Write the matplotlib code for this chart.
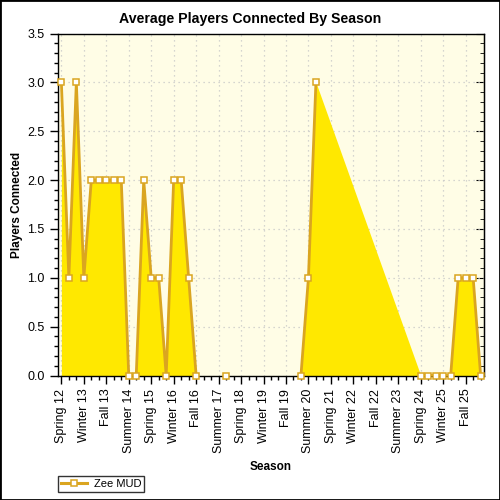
import numpy as np
import matplotlib
matplotlib.use("Agg")
from matplotlib import pyplot as plt
from matplotlib.ticker import MultipleLocator, FormatStrFormatter
from matplotlib.lines import Line2D

plt.rcParams['font.family'] = ['Liberation Sans', 'DejaVu Sans']

# seasons from Spring 12 to Spring 26
seasons = []
year = 12
for k in range(57):
    s = ["Spring", "Summer", "Fall", "Winter"][k % 4]
    if s == "Winter":
        year += 1
    seasons.append(f"{s} {year}")

# average players connected (None = no data)
players = [3, 1, 3, 1, 2, 2, 2, 2, 2, 0,
           0, 2, 1, 1, 0, 2, 2, 1, 0, None,
           None, None, 0, None, None, None, None, None, None, None,
           None, None, 0, 1, 3, None, None, None, None, None,
           None, None, None, None, None, None, None, None, 0, 0,
           0, 0, 0, 1, 1, 1, 0]

x = np.arange(len(seasons))
y = np.array([np.nan if v is None else v for v in players], dtype=float)
ok = ~np.isnan(y)

fig = plt.figure(figsize=(5, 5), dpi=100)
ax = fig.add_axes([0.116, 0.249, 0.852, 0.684])
ax.set_facecolor('#FFFDE6')

line_col = '#DAA520'
fill_col = '#FFE800'

ax.fill_between(x[ok], y[ok], 0, color=fill_col, lw=0, zorder=2)
ax.plot(x, y, color=line_col, lw=2, zorder=3)
ax.plot(x[ok], y[ok], ls='none', marker='s', ms=5, mfc='white',
        mec=line_col, mew=1.1, zorder=4, label='Zee MUD', clip_on=False)

ax.set_xlim(-0.45, len(seasons) - 0.55)
ax.set_ylim(0, 3.5)
ax.set_xticks(x[::3])
ax.set_xticklabels(seasons[::3], rotation=90, fontsize=9)
ax.set_xticks(x, minor=True)
ax.yaxis.set_major_locator(MultipleLocator(0.5))
ax.yaxis.set_minor_locator(MultipleLocator(0.1))
ax.yaxis.set_major_formatter(FormatStrFormatter('%.1f'))
ax.tick_params(axis='y', labelsize=9)
ax.tick_params(which='major', length=6, width=1, color='black')
ax.tick_params(which='minor', length=3, width=1, color='black')

# right axis with inward ticks, no labels
ax2 = ax.secondary_yaxis('right')
ax2.yaxis.set_major_locator(MultipleLocator(0.5))
ax2.yaxis.set_minor_locator(MultipleLocator(0.1))
ax2.tick_params(which='major', direction='in', length=6, labelright=False)
ax2.tick_params(which='minor', direction='in', length=3)

ax.grid(True, which='major', color='#C8C8C8', ls=(0, (1, 3)), lw=0.9, zorder=1)
for sp in ax.spines.values():
    sp.set_color('black')
    sp.set_linewidth(1)

fig.suptitle('Average Players Connected By Season', x=0.5, y=0.975,
             fontsize=10.2, fontweight='bold')
ax.set_xlabel('Season', fontsize=8.5, fontweight='bold', labelpad=6)
ax.set_ylabel('Players Connected', fontsize=8.5, fontweight='bold', labelpad=3)

# legend line+marker
h = Line2D([], [], color=line_col, lw=2.2, marker='s', ms=5, mfc='white',
           mec=line_col, mew=1.1)
leg = fig.legend([h], ['Zee MUD'], loc='lower left',
                 bbox_to_anchor=(0.116, 0.016), fontsize=8, frameon=True,
                 fancybox=False, borderpad=0.25, handlelength=2.4,
                 handletextpad=0.6, borderaxespad=0)
leg.get_frame().set_edgecolor('black')
leg.get_frame().set_linewidth(1)

fig.patches.append(plt.Rectangle((0, 0), 1, 1, transform=fig.transFigure,
                                 fill=False, edgecolor='black', lw=2))

fig.savefig('out.png', dpi=100)
